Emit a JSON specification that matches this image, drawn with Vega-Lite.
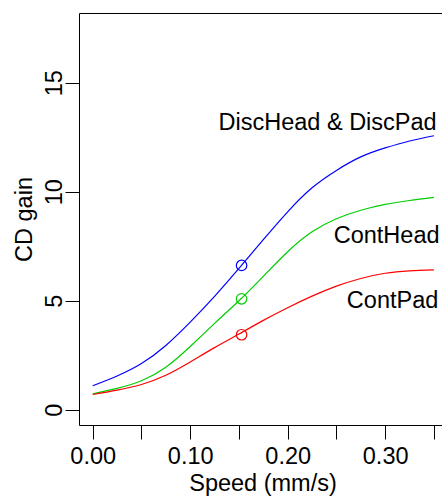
{
  "$schema": "https://vega.github.io/schema/vega-lite/v6.json",
  "width": 363,
  "height": 412,
  "autosize": {"type": "none"},
  "padding": {"left": 79, "top": 13, "right": 0, "bottom": 71},
  "background": "white",
  "config": {
    "view": {"stroke": null},
    "font": "Liberation Sans",
    "axis": {
      "grid": false,
      "domainColor": "black",
      "tickColor": "black",
      "labelColor": "black",
      "titleColor": "black",
      "labelFont": "Liberation Sans",
      "titleFont": "Liberation Sans",
      "labelFontSize": 23.5,
      "titleFontSize": 23.5,
      "titleFontWeight": "normal",
      "tickSize": 14,
      "domainWidth": 1,
      "tickWidth": 1
    }
  },
  "datasets": {
    "curves": [
      {"speed": 0, "gain": 1.10, "series": "DiscHead & DiscPad"},
      {"speed": 0.025, "gain": 1.55, "series": "DiscHead & DiscPad"},
      {"speed": 0.05, "gain": 2.12, "series": "DiscHead & DiscPad"},
      {"speed": 0.075, "gain": 2.95, "series": "DiscHead & DiscPad"},
      {"speed": 0.1, "gain": 4.02, "series": "DiscHead & DiscPad"},
      {"speed": 0.125, "gain": 5.20, "series": "DiscHead & DiscPad"},
      {"speed": 0.15, "gain": 6.48, "series": "DiscHead & DiscPad"},
      {"speed": 0.175, "gain": 7.80, "series": "DiscHead & DiscPad"},
      {"speed": 0.2, "gain": 9.08, "series": "DiscHead & DiscPad"},
      {"speed": 0.225, "gain": 10.18, "series": "DiscHead & DiscPad"},
      {"speed": 0.25, "gain": 10.98, "series": "DiscHead & DiscPad"},
      {"speed": 0.275, "gain": 11.60, "series": "DiscHead & DiscPad"},
      {"speed": 0.3, "gain": 12.01, "series": "DiscHead & DiscPad"},
      {"speed": 0.325, "gain": 12.33, "series": "DiscHead & DiscPad"},
      {"speed": 0.35, "gain": 12.57, "series": "DiscHead & DiscPad"},
      {"speed": 0, "gain": 0.73, "series": "ContHead"},
      {"speed": 0.025, "gain": 0.98, "series": "ContHead"},
      {"speed": 0.05, "gain": 1.33, "series": "ContHead"},
      {"speed": 0.075, "gain": 1.95, "series": "ContHead"},
      {"speed": 0.1, "gain": 2.90, "series": "ContHead"},
      {"speed": 0.125, "gain": 3.96, "series": "ContHead"},
      {"speed": 0.15, "gain": 5.00, "series": "ContHead"},
      {"speed": 0.175, "gain": 6.12, "series": "ContHead"},
      {"speed": 0.2, "gain": 7.25, "series": "ContHead"},
      {"speed": 0.225, "gain": 8.16, "series": "ContHead"},
      {"speed": 0.25, "gain": 8.76, "series": "ContHead"},
      {"speed": 0.275, "gain": 9.15, "series": "ContHead"},
      {"speed": 0.3, "gain": 9.42, "series": "ContHead"},
      {"speed": 0.325, "gain": 9.60, "series": "ContHead"},
      {"speed": 0.35, "gain": 9.74, "series": "ContHead"},
      {"speed": 0, "gain": 0.70, "series": "ContPad"},
      {"speed": 0.025, "gain": 0.90, "series": "ContPad"},
      {"speed": 0.05, "gain": 1.16, "series": "ContPad"},
      {"speed": 0.075, "gain": 1.58, "series": "ContPad"},
      {"speed": 0.1, "gain": 2.19, "series": "ContPad"},
      {"speed": 0.125, "gain": 2.85, "series": "ContPad"},
      {"speed": 0.15, "gain": 3.47, "series": "ContPad"},
      {"speed": 0.175, "gain": 4.10, "series": "ContPad"},
      {"speed": 0.2, "gain": 4.68, "series": "ContPad"},
      {"speed": 0.225, "gain": 5.21, "series": "ContPad"},
      {"speed": 0.25, "gain": 5.67, "series": "ContPad"},
      {"speed": 0.275, "gain": 6.02, "series": "ContPad"},
      {"speed": 0.3, "gain": 6.26, "series": "ContPad"},
      {"speed": 0.325, "gain": 6.37, "series": "ContPad"},
      {"speed": 0.35, "gain": 6.42, "series": "ContPad"}
    ],
    "points": [
      {"speed": 0.1527, "gain": 6.62, "series": "DiscHead & DiscPad"},
      {"speed": 0.1527, "gain": 5.09, "series": "ContHead"},
      {"speed": 0.1527, "gain": 3.44, "series": "ContPad"}
    ],
    "labels": [
      {"label": "DiscHead & DiscPad", "speed": 0.3528, "gain": 12.81},
      {"label": "ContHead", "speed": 0.3558, "gain": 7.64},
      {"label": "ContPad", "speed": 0.3545, "gain": 4.67}
    ]
  },
  "layer": [
    {
      "data": {"name": "curves"},
      "mark": {"type": "line", "interpolate": "natural", "strokeWidth": 1.2},
      "encoding": {
        "x": {
          "field": "speed",
          "type": "quantitative",
          "scale": {"domain": [-0.01407, 0.3583], "nice": false, "zero": false},
          "axis": {
            "orient": "bottom",
            "values": [0, 0.05, 0.1, 0.15, 0.2, 0.25, 0.3, 0.35],
            "labelExpr": "round(datum.value * 20) % 2 == 0 ? format(datum.value, '.2f') : ''",
            "labelBaseline": "alphabetic",
            "labelPadding": 24,
            "labelFlush": false,
            "labelOverlap": false,
            "title": "Speed (mm/s)",
            "titleX": 183.5,
            "titleY": 65,
            "titleAlign": "center",
            "titleBaseline": "alphabetic"
          }
        },
        "y": {
          "field": "gain",
          "type": "quantitative",
          "scale": {"domain": [-0.7, 18.2], "nice": false, "zero": false},
          "axis": {
            "values": [0, 5, 10, 15],
            "labelAngle": 270,
            "labelAlign": "center",
            "labelBaseline": "alphabetic",
            "labelPadding": 4,
            "labelFlush": false,
            "labelOverlap": false,
            "title": "CD gain",
            "titleX": -47.3,
            "titleY": 206,
            "titleAngle": 270,
            "titleAlign": "center",
            "titleBaseline": "alphabetic"
          }
        },
        "color": {
          "field": "series",
          "type": "nominal",
          "scale": {"domain": ["DiscHead & DiscPad", "ContHead", "ContPad"], "range": ["#0000ff", "#00cd00", "#ff0000"]},
          "legend": null
        }
      }
    },
    {
      "data": {"name": "points"},
      "mark": {"type": "point", "shape": "circle", "filled": false, "size": 110, "strokeWidth": 1.2, "opacity": 1},
      "encoding": {
        "x": {
          "field": "speed",
          "type": "quantitative",
          "axis": {"orient": "top", "domain": true, "ticks": false, "labels": false, "title": null}
        },
        "y": {"field": "gain", "type": "quantitative"},
        "color": {"field": "series", "type": "nominal", "legend": null}
      }
    },
    {
      "data": {"name": "labels"},
      "mark": {"type": "text", "align": "right", "baseline": "alphabetic", "fontSize": 23.5, "font": "Liberation Sans", "color": "black"},
      "encoding": {
        "x": {"field": "speed", "type": "quantitative", "axis": null},
        "y": {"field": "gain", "type": "quantitative"},
        "text": {"field": "label"}
      }
    }
  ],
  "resolve": {"axis": {"x": "independent"}}
}
